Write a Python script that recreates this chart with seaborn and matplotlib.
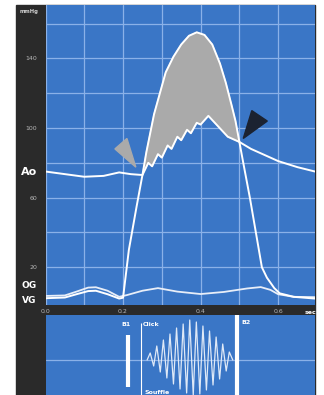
import matplotlib
matplotlib.use('Agg')
import matplotlib.pyplot as plt
from matplotlib.patches import Rectangle, Polygon
import seaborn as sns
import numpy as np

# aortic pressure (Ao), mmHg
ao_t = [0.00, 0.05, 0.10, 0.15, 0.19, 0.22, 0.25, 0.265, 0.275, 0.29, 0.30, 0.315, 0.325,
        0.34, 0.35, 0.365, 0.375, 0.39, 0.40, 0.42, 0.445, 0.47, 0.50, 0.53, 0.56, 0.60,
        0.65, 0.695]
ao_p = [75, 73.5, 72, 72.5, 74.5, 73.5, 73, 80, 78, 85, 83, 90, 88,
        95, 93, 99, 97, 103, 102, 107, 101, 95, 92, 88, 85, 81,
        77.5, 75]

# left ventricle (VG), mmHg
vg_t = [0.00, 0.05, 0.08, 0.11, 0.13, 0.16, 0.19, 0.20, 0.215, 0.235, 0.25, 0.26, 0.28,
        0.31, 0.33, 0.35, 0.37, 0.39, 0.41, 0.43, 0.45, 0.465, 0.48, 0.49, 0.50, 0.51,
        0.527, 0.558, 0.571, 0.59, 0.604, 0.64, 0.695]
vg_p = [2.2, 2.6, 4.5, 6.3, 6.5, 4.5, 2.0, 2.5, 30, 55, 73, 86, 108,
        132, 141, 148, 153, 155, 153.5, 148, 137, 126, 113, 104, 92, 80,
        60, 20, 14, 8, 5, 3, 2]

# left atrium (OG), mmHg
og_t = [0.00, 0.05, 0.08, 0.11, 0.13, 0.16, 0.19, 0.21, 0.25, 0.29, 0.34, 0.40, 0.46,
        0.52, 0.555, 0.58, 0.60, 0.64, 0.695]
og_p = [3.5, 3.8, 6, 8.3, 8.5, 6.5, 3, 4, 6.5, 8, 6, 4.6, 5.8,
        7.8, 8.6, 7, 4.5, 3, 2.8]

# ejection window where VG > Ao
eject = (0.25, 0.50)

# phonocardiogram
b1_t, click_t, b2_t = 0.213, 0.246, 0.494
mur_t = [0.262, 0.270, 0.279, 0.287, 0.296, 0.304, 0.313, 0.321, 0.330, 0.338, 0.347,
         0.355, 0.364, 0.372, 0.381, 0.389, 0.398, 0.406, 0.415, 0.423, 0.432, 0.440,
         0.449, 0.457, 0.466, 0.474, 0.483]
mur_a = [0, 7, -6, 14, -12, 20, -18, 26, -24, 32, -29,
         36, -33, 40, -35, 38, -34, 34, -30, 29, -25,
         23, -19, 16, -11, 8, 0]

# arrow wedges (opening / closing of aortic valve)
open_wedge = [(0.179, 88), (0.210, 94), (0.233, 77.5)]
close_wedge = [(0.532, 110), (0.572, 104), (0.510, 94)]

blue = '#3a76c6'
grid_c = '#8ab1e8'
dark = '#2a2a2a'
lab_c = '#b8b8b8'

sns.set_style('white')
plt.rcParams['font.family'] = ['DejaVu Sans']

fig = plt.figure(figsize=(3.24, 3.95), dpi=100)
fig.patch.set_facecolor('white')
# dark frame behind both panels
fig.patches.append(Rectangle((16/324, 0), (315-16)/324, 390/395, transform=fig.transFigure,
                             color=dark, zorder=-10))

ax = fig.add_axes([45.5/324, 90/395, 269.5/324, 300/395])
ax2 = fig.add_axes([45.5/324, 0, 269.5/324, 80/395])

# ---- pressure panel ----
ax.set_facecolor(blue)
ax.set_xlim(0, 0.695)
ax.set_ylim(-1.7, 170.7)
ax.set_xticks([0, 0.2, 0.4, 0.6])
ax.set_xticklabels(['0.0', '0.2', '0.4', '0.6'])
ax.set_xticks([0.1, 0.3, 0.5], minor=True)
ax.set_yticks([20, 60, 100, 140])
ax.set_yticks([40, 80, 120, 160], minor=True)
ax.grid(which='both', color=grid_c, lw=0.9)
ax.set_axisbelow(True)
ax.tick_params(which='both', length=0, labelsize=4.5, labelcolor=lab_c)
ax.tick_params(axis='x', pad=3)
ax.tick_params(axis='y', pad=6)
for s in ax.spines.values():
    s.set_visible(False)

# gray area: VG above Ao during ejection
ao_t_a, ao_p_a = np.array(ao_t), np.array(ao_p)
vg_t_a, vg_p_a = np.array(vg_t), np.array(vg_p)
m_vg = (vg_t_a >= eject[0]) & (vg_t_a <= eject[1])
m_ao = (ao_t_a >= eject[0]) & (ao_t_a <= eject[1])
ax.fill(np.concatenate([vg_t_a[m_vg], ao_t_a[m_ao][::-1]]),
        np.concatenate([vg_p_a[m_vg], ao_p_a[m_ao][::-1]]),
        color='#aaaaaa', zorder=2)

sns.lineplot(x=og_t, y=og_p, ax=ax, color='#e8eef8', lw=1.3, zorder=3)
sns.lineplot(x=ao_t, y=ao_p, ax=ax, color='white', lw=1.4, zorder=4)
sns.lineplot(x=vg_t, y=vg_p, ax=ax, color='white', lw=1.4, zorder=4)

ax.add_patch(Polygon(open_wedge, closed=True, color='#aaaaaa', zorder=3))
ax.add_patch(Polygon(close_wedge, closed=True, color='#1b2231', zorder=3))
ax.set_xlabel('')
ax.set_ylabel('')

# labels in the dark strip
strip = ax.get_yaxis_transform()
ax.text(-0.06, 167, 'mmHg', transform=strip, ha='center', va='center', fontsize=3.8,
        color='#d0d0d0', fontweight='bold')
ax.text(-0.06, 75, 'Ao', transform=strip, ha='center', va='center', fontsize=8,
        color='white', fontweight='bold')
ax.text(-0.06, 9.5, 'OG', transform=strip, ha='center', va='center', fontsize=6.5,
        color='white', fontweight='bold')
ax.text(-0.06, 1.0, 'VG', transform=strip, ha='center', va='center', fontsize=6.5,
        color='white', fontweight='bold')
ax.text(0.985, -0.025, 'sec', transform=ax.transAxes, ha='center', va='center',
        fontsize=4.5, color='white', fontweight='bold')

# ---- phonocardiogram ----
ax2.set_facecolor(blue)
ax2.set_xlim(0, 0.695)
ax2.set_ylim(-35, 45)
ax2.set_xticks([])
ax2.set_yticks([])
ax2.axhline(0, color=grid_c, lw=0.9)
for s in ax2.spines.values():
    s.set_visible(False)

sns.lineplot(x=mur_t, y=mur_a, ax=ax2, color='#dfe9f7', lw=0.9)
ax2.vlines(b1_t, -27, 25, color='white', lw=3)
ax2.vlines(click_t, -35, 37, color='white', lw=0.8)
ax2.vlines(b2_t, -35, 45, color='white', lw=3)
ax2.text(b1_t - 0.018, 35, 'B1', fontsize=4.5, color='white', fontweight='bold', va='center')
ax2.text(click_t + 0.006, 35, 'Click', fontsize=4.5, color='white', fontweight='bold', va='center')
ax2.text(b2_t + 0.012, 38, 'B2', fontsize=4.5, color='white', fontweight='bold', va='center')
ax2.text(click_t + 0.01, -33, 'Souffle', fontsize=4.5, color='white', fontweight='bold', va='center')
ax2.set_xlabel('')
ax2.set_ylabel('')

fig.savefig('out.png', dpi=100)
